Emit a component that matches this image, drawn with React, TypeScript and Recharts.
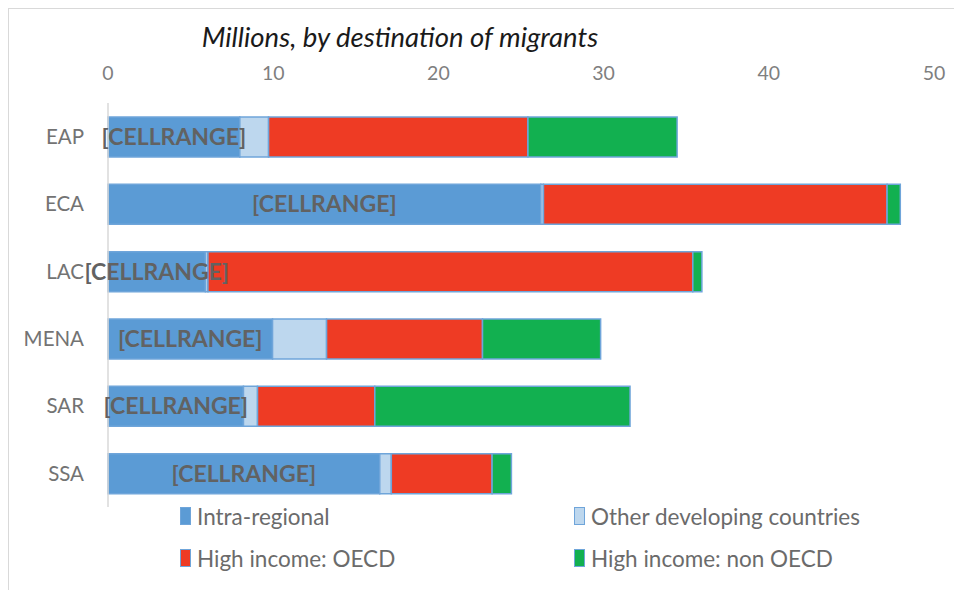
import React from 'react';
import { BarChart, Bar, XAxis, YAxis, Legend, LabelList } from 'recharts';

const regions = ['EAP', 'ECA', 'LAC', 'MENA', 'SAR', 'SSA'];
const intraRegional = [7.98, 26.2, 5.9, 9.96, 8.2, 16.45];
const otherDeveloping = [1.74, 0.16, 0.15, 3.27, 0.85, 0.7];
const highIncomeOecd = [15.7, 20.8, 29.35, 9.44, 7.1, 6.1];
const highIncomeNonOecd = [9.03, 0.8, 0.55, 7.15, 15.45, 1.17];
const xTicks = [0, 10, 20, 30, 40, 50];

const data = regions.map((region, i) => ({
  region,
  intra: intraRegional[i],
  other: otherDeveloping[i],
  oecd: highIncomeOecd[i],
  nonOecd: highIncomeNonOecd[i],
}));

const series = [
  { key: 'intra', name: 'Intra-regional', color: '#5b9bd5' },
  { key: 'other', name: 'Other developing countries', color: '#bdd7ee' },
  { key: 'oecd', name: 'High income: OECD', color: '#ee3b24' },
  { key: 'nonOecd', name: 'High income: non OECD', color: '#12b050' },
];

const font = 'Lato, "Open Sans", sans-serif';
const grey = '#6b6b6b';

const LegendBox = () => (
  <div style={{ display: 'grid', gridTemplateColumns: '394px 330px', rowGap: 16, fontFamily: font, fontSize: 22.5, color: grey }}>
    {series.map((s) => (
      <div key={s.key} style={{ display: 'flex', alignItems: 'center', height: 26, whiteSpace: 'nowrap' }}>
        <span style={{ display: 'inline-block', width: 9, height: 16, background: s.color, border: '1.5px solid #6fa5da', marginRight: 6 }} />
        {s.name}
      </div>
    ))}
  </div>
);

export default function App() {
  return (
    <div style={{ position: 'relative', width: 960, height: 590, border: '1px solid #d9d9d9', boxSizing: 'border-box', background: '#fff' }}>
      <div style={{ position: 'absolute', left: 0, width: 782, top: 11, textAlign: 'center', fontFamily: font, fontStyle: 'italic', fontSize: 27.5, color: '#1a1a1a' }}>
        Millions, by destination of migrants
      </div>
      <BarChart
        width={958}
        height={588}
        data={data}
        layout="vertical"
        barSize={40}
        margin={{ top: 0, right: 33, bottom: 90, left: 0 }}
      >
        <XAxis
          type="number"
          orientation="top"
          domain={[0, 50]}
          ticks={xTicks}
          axisLine={false}
          tickLine={false}
          tickSize={0}
          tickMargin={23}
          height={94}
          tick={{ fill: '#7f7f7f', fontSize: 19.5, fontFamily: font }}
        />
        <YAxis
          type="category"
          dataKey="region"
          width={99}
          axisLine={{ stroke: '#d9d9d9', strokeWidth: 1.5 }}
          tickLine={false}
          tickSize={0}
          tickMargin={24}
          tick={{ fill: '#737373', fontSize: 20.5, fontFamily: font }}
        />
        <Legend
          layout="horizontal"
          verticalAlign="middle"
          align="center"
          wrapperStyle={{ top: 494, left: 171, width: 750 }}
          content={() => <LegendBox />}
        />
        {series.map((s) => (
          <Bar
            key={s.key}
            dataKey={s.key}
            name={s.name}
            stackId="a"
            fill={s.color}
            stroke="#6fa5da"
            strokeWidth={1.5}
            isAnimationActive={false}
          >
            {s.key === 'intra' && (
              <LabelList
                dataKey="intra"
                position="center"
                formatter={() => '[CELLRANGE]'}
                style={{ fill: '#626262', fontSize: 23, fontWeight: 700, fontFamily: font }}
              />
            )}
          </Bar>
        ))}
      </BarChart>
    </div>
  );
}
